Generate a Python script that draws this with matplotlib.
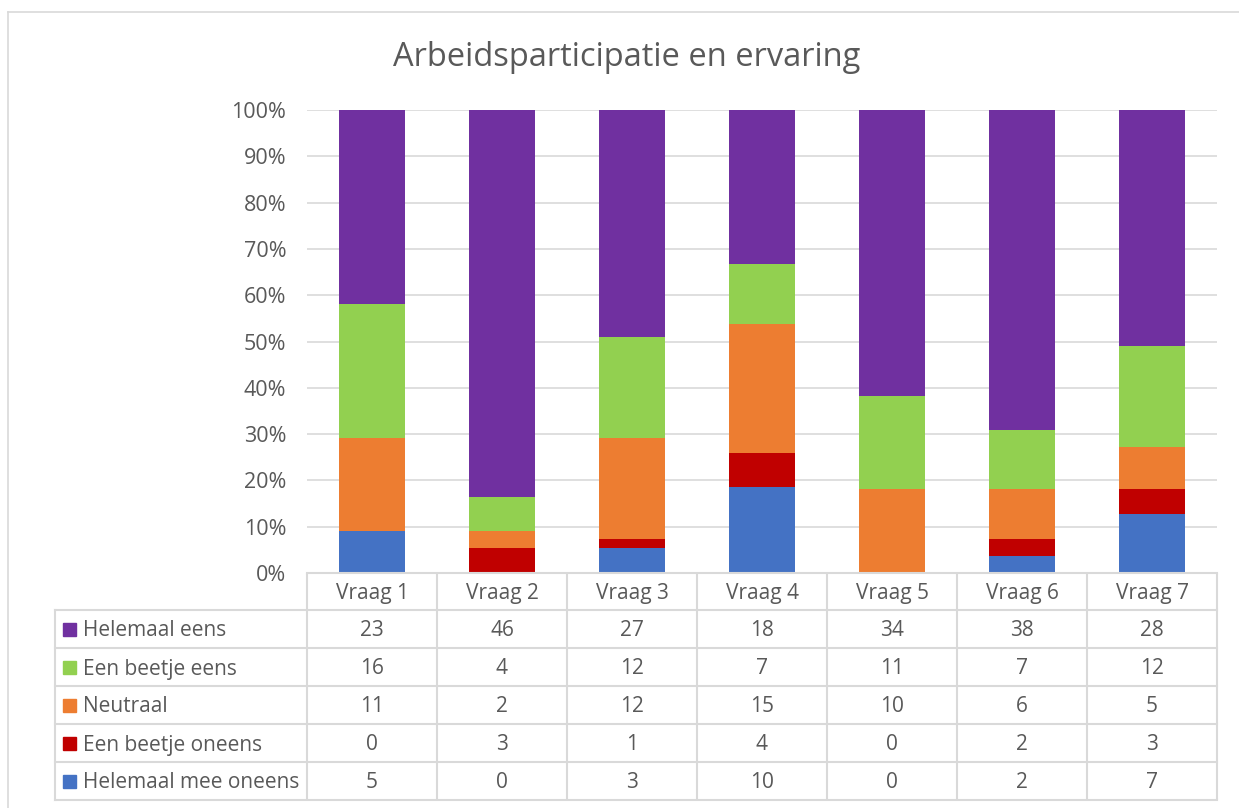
import matplotlib
matplotlib.use("Agg")
import matplotlib.pyplot as plt
import numpy as np
from matplotlib.patches import Rectangle

categories = ["Vraag 1", "Vraag 2", "Vraag 3", "Vraag 4", "Vraag 5", "Vraag 6", "Vraag 7"]
helemaal_mee_oneens = [5, 0, 3, 10, 0, 2, 7]
een_beetje_oneens = [0, 3, 1, 4, 0, 2, 3]
neutraal = [11, 2, 12, 15, 10, 6, 5]
een_beetje_eens = [16, 4, 12, 7, 11, 7, 12]
helemaal_eens = [23, 46, 27, 18, 34, 38, 28]

series_names = ["Helemaal mee oneens", "Een beetje oneens", "Neutraal", "Een beetje eens", "Helemaal eens"]
series_vals = [helemaal_mee_oneens, een_beetje_oneens, neutraal, een_beetje_eens, helemaal_eens]
colors = ["#4472C4", "#C00000", "#ED7D31", "#92D050", "#7030A0"]
yticks = [0, 10, 20, 30, 40, 50, 60, 70, 80, 90, 100]

FONT = "Open Sans"
TXT = "#595959"
GRID = "#D9D9D9"
FS = 15

W, H = 1239, 808
fig = plt.figure(figsize=(W / 100, H / 100), dpi=100)

L, R, T, B = 307, 1217, 110, 573
ax = fig.add_axes([L / W, 1 - B / H, (R - L) / W, (B - T) / H])

data = np.array(series_vals, dtype=float)
totals = data.sum(axis=0)
pct = data / totals * 100
x = np.arange(len(categories))
bottom = np.zeros(len(categories))
for name, vals, c in zip(series_names, pct, colors):
    ax.bar(x, vals, 0.51, bottom=bottom, color=c, label=name, zorder=3)
    bottom += vals

ax.set_xlim(-0.5, len(categories) - 0.5)
ax.set_ylim(0, 100)
ax.set_yticks(yticks)
ax.set_yticklabels([f"{v}%" for v in yticks], fontsize=15.5, color=TXT, family=FONT)
ax.tick_params(axis="y", length=0, pad=15)
ax.set_xticks([])
ax.grid(axis="y", color=GRID, lw=1.2, zorder=0)
for s in ax.spines.values():
    s.set_visible(False)

fig.text(627 / W, 1 - 58 / H, "Arbeidsparticipatie en ervaring", ha="center", va="center",
         fontsize=23.5, color=TXT, family=FONT)

# overlay for the data table (pixel coordinates)
ov = fig.add_axes([0, 0, 1, 1], facecolor="none")
ov.set_xlim(0, W)
ov.set_ylim(H, 0)
ov.axis("off")

n = len(categories)
colw = (R - L) / n
tl, hdr_top, row_top, row_h = 55, 573, 610, 38
nrows = len(series_names)
bot = row_top + nrows * row_h
lw = 1.5
for k in range(n + 1):
    xx = L + k * colw
    ov.plot([xx, xx], [hdr_top, bot], color=GRID, lw=lw, solid_capstyle="butt")
ov.plot([tl, tl], [row_top, bot], color=GRID, lw=lw)
ov.plot([L, R], [hdr_top, hdr_top], color=GRID, lw=lw)
for r in range(nrows + 1):
    yy = row_top + r * row_h
    ov.plot([tl, R], [yy, yy], color=GRID, lw=lw)

dy = 2
for k, cat in enumerate(categories):
    ov.text(L + (k + 0.5) * colw, (hdr_top + row_top) / 2 + dy, cat, ha="center", va="center",
            fontsize=FS, color=TXT, family=FONT)

order = list(range(nrows))[::-1]
for r, si in enumerate(order):
    yc = row_top + (r + 0.5) * row_h
    ov.add_patch(Rectangle((63, yc - 6.5), 13, 13, color=colors[si]))
    ov.text(83, yc + dy, series_names[si], ha="left", va="center", fontsize=FS, color=TXT, family=FONT)
    for k in range(n):
        ov.text(L + (k + 0.5) * colw, yc + dy, str(series_vals[si][k]), ha="center", va="center",
                fontsize=FS, color=TXT, family=FONT)

ov.plot([8, 8], [12, H + 5], color=GRID, lw=1.2)
ov.plot([8, W + 5], [12, 12], color=GRID, lw=1.2)

fig.savefig("out.png", dpi=100)
